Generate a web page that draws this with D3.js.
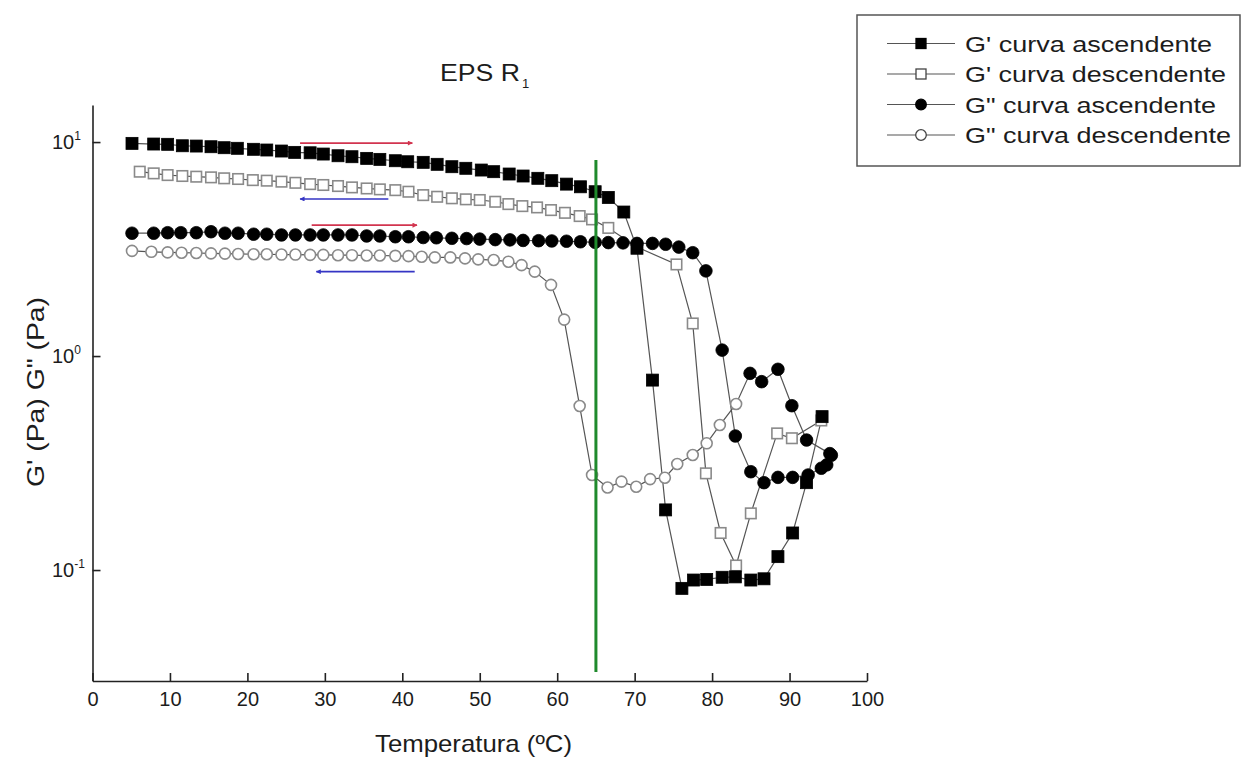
<!DOCTYPE html>
<html><head><meta charset="utf-8">
<script src="https://cdn.jsdelivr.net/npm/d3@7"></script>
<style>
body{margin:0;background:#fff;}
svg{display:block;background:#fff;}
text{font-family:"Liberation Sans",Arial,Helvetica,sans-serif;fill:#1c1c1c;}
</style>
</head><body>
<svg id="chart" width="1251" height="758"></svg>
<script>
// ---------------- data ----------------
const chartTitle = "EPS R";
const chartTitleSub = "1";
const xTitle = "Temperatura (ºC)";
const yTitle = "G' (Pa) G\" (Pa)";
const xDomain = [0, 100];
const yDomain = [0.0303, 14.9];
const xMajorTicks = [0,10,20,30,40,50,60,70,80,90,100];
const xMinorTicks = [5,15,25,35,45,55,65,75,85,95];
const yMajorTicks = [0.1, 1, 10];
const yTickExponents = ["-1", "0", "1"];
const yMinorTicks = [0.04,0.05,0.06,0.07,0.08,0.09,0.2,0.3,0.4,0.5,0.6,0.7,0.8,0.9,2,3,4,5,6,7,8,9];

const seriesNames = ["G' curva ascendente", "G' curva descendente", "G\" curva ascendente", "G\" curva descendente"];

// G' ascending (filled squares)
const gpAscT = [5.1,7.9,9.7,11.6,13.4,15.3,17.0,18.7,20.8,22.5,24.4,26.1,28.1,29.8,31.7,33.5,35.4,37.1,39.1,40.7,
  42.7,44.5,46.4,48.2,50.2,51.8,53.8,55.6,57.5,59.3,61.2,63.0,64.9,66.6,68.6,
  70.3,72.3,74.0,76.1,77.6,79.3,81.3,83.0,85.0,86.7,88.5,90.4,92.2,94.2];
const gpAscV = [9.86,9.79,9.76,9.61,9.58,9.51,9.41,9.35,9.25,9.18,9.08,8.95,8.91,8.79,8.63,8.54,8.39,8.30,8.18,8.09,
  8.04,7.87,7.67,7.54,7.40,7.27,7.09,6.94,6.77,6.60,6.36,6.18,5.86,5.51,4.71,
  3.19,0.772,0.191,0.0821,0.0898,0.0904,0.0925,0.0929,0.0898,0.091,0.1155,0.149,0.256,0.521];

// G' descending (open squares)
const gpDescT = [6.1,7.9,9.7,11.6,13.4,15.3,17.0,18.8,20.7,22.5,24.4,26.2,28.1,29.8,31.7,33.5,35.4,37.1,39.1,40.8,
  42.7,44.5,46.4,48.2,50.0,52.0,53.7,55.5,57.4,59.2,61.0,62.9,64.5,66.6,
  70.3,75.4,77.5,79.2,81.1,83.1,85.0,88.4,90.3,94.1];
const gpDescV = [7.27,7.14,7.01,6.94,6.89,6.84,6.77,6.72,6.64,6.60,6.53,6.45,6.36,6.30,6.23,6.14,6.07,6.01,5.96,5.86,
  5.65,5.55,5.46,5.40,5.36,5.26,5.13,5.02,4.95,4.81,4.67,4.51,4.35,3.97,
  3.23,2.68,1.42,0.283,0.149,0.105,0.184,0.435,0.413,0.50];

// G'' ascending (filled circles)
const gppAscT = [5.1,7.9,9.7,11.4,13.4,15.3,17.1,18.8,20.8,22.5,24.4,26.2,28.1,29.8,31.7,33.5,35.4,37.1,39.1,40.8,
  42.7,44.4,46.4,48.3,50.0,52.0,53.9,55.6,57.6,59.3,61.2,63.0,64.9,
  66.6,68.5,70.3,72.3,74.0,75.7,77.5,79.2,81.3,83.0,85.0,86.7,88.5,90.4,92.4,94.1,94.8,95.4];
const gppAscV = [3.75,3.75,3.77,3.77,3.77,3.81,3.75,3.75,3.71,3.71,3.68,3.68,3.68,3.68,3.68,3.68,3.64,3.64,3.61,3.61,
  3.58,3.57,3.55,3.54,3.52,3.50,3.49,3.47,3.46,3.45,3.44,3.42,3.40,
  3.39,3.38,3.36,3.36,3.33,3.23,3.04,2.50,1.066,0.423,0.288,0.256,0.271,0.271,0.278,0.299,0.31,0.344];

// G'' descending (open circles)
const gppDescT = [5.1,7.6,9.7,11.5,13.4,15.3,17.1,18.8,20.8,22.5,24.4,26.2,28.1,29.8,31.7,33.5,35.4,37.1,39.1,40.8,
  42.5,44.2,46.2,48.1,49.8,51.8,53.7,55.4,57.1,59.2,60.9,
  62.9,64.5,66.5,68.3,70.2,72.0,73.9,75.5,77.5,79.3,81.0,83.1,
  84.9,86.4,88.5,90.3,92.2,95.2];
const gppDescV = [3.10,3.07,3.05,3.04,3.03,3.02,3.01,3.00,2.99,2.99,2.98,2.98,2.97,2.97,2.96,2.96,2.95,2.95,2.94,2.93,
  2.91,2.89,2.89,2.86,2.83,2.81,2.76,2.66,2.48,2.15,1.48,
  0.584,0.278,0.243,0.259,0.245,0.266,0.270,0.313,0.345,0.391,0.476,0.597,
  0.83,0.759,0.867,0.586,0.405,0.35];
// in the picture the high-temperature part of G'' descending is drawn solid
const gppDescSolidAboveT = 84;

// vertical reference line
const refLineT = 65;
const refLineRange = [0.0334, 8.24];

// direction arrows (temperature from -> to, at a level)
const arrowFromT = [26.8, 38.2, 28.3, 41.6];
const arrowToT   = [41.3, 26.8, 41.9, 28.9];
const arrowLevel = [9.89, 5.42, 4.09, 2.48];

// ---------------- drawing ----------------
const svg = d3.select("#chart");
const x = d3.scaleLinear().domain(xDomain).range([92.5, 867]);
const y = d3.scaleLog().domain(yDomain).range([681, 105]);

const AX = "#222";
// x axis
const gx = svg.append("g").attr("transform", "translate(0,681)");
gx.call(d3.axisBottom(x).tickValues(xMinorTicks).tickSizeInner(-4).tickSizeOuter(0).tickFormat(""));
gx.call(d3.axisBottom(x).tickValues(xMajorTicks).tickSizeInner(-8).tickSizeOuter(0).tickPadding(11).tickFormat(d3.format("d")));
gx.selectAll("text").style("font-size", "20px").attr("fill", "#1c1c1c");
gx.selectAll("path,line").attr("stroke", AX).attr("stroke-width", 1.6);

// y axis
const gy = svg.append("g").attr("transform", "translate(92.5,0)");
gy.call(d3.axisLeft(y).tickValues(yMinorTicks).tickSizeInner(-4).tickSizeOuter(0).tickFormat(""));
gy.call(d3.axisLeft(y).tickValues(yMajorTicks).tickSizeInner(-8).tickSizeOuter(0).tickFormat(""));
gy.selectAll("path,line").attr("stroke", AX).attr("stroke-width", 1.6);

yMajorTicks.forEach((v, i) => {
  const t = svg.append("text").attr("x", 52).attr("y", y(v) + 7).style("font-size", "20px");
  t.append("tspan").text("10");
  t.append("tspan").attr("dy", -9).style("font-size", "12px").text(yTickExponents[i]);
});

// titles
svg.append("text").attr("x", 440).attr("y", 81).style("font-size", "24px")
  .attr("textLength", 80).attr("lengthAdjust", "spacingAndGlyphs").text(chartTitle);
svg.append("text").attr("x", 522).attr("y", 88).style("font-size", "13px").text(chartTitleSub);
svg.append("text").attr("x", 473.5).attr("y", 752).attr("text-anchor", "middle").style("font-size", "24px")
  .attr("textLength", 197).attr("lengthAdjust", "spacingAndGlyphs").text(xTitle);
svg.append("text").attr("transform", "translate(44,392) rotate(-90)").attr("text-anchor", "middle")
  .style("font-size", "24px").attr("textLength", 190).attr("lengthAdjust", "spacingAndGlyphs").text(yTitle);

// series
const series = [
  {T: gpAscT, V: gpAscV, shape: "square", solid: () => true},
  {T: gpDescT, V: gpDescV, shape: "square", solid: () => false},
  {T: gppAscT, V: gppAscV, shape: "circle", solid: () => true},
  {T: gppDescT, V: gppDescV, shape: "circle", solid: t => t > gppDescSolidAboveT}
];
const line = d3.line().x(d => x(d[0])).y(d => y(d[1]));
const plot = svg.append("g");
series.forEach(s => {
  const pts = s.T.map((t, i) => [t, s.V[i]]);
  plot.append("path").datum(pts).attr("d", line).attr("fill", "none")
    .attr("stroke", "#555").attr("stroke-width", 1.2);
});

function drawMarker(g, shape, solid, cx, cy) {
  if (shape === "square") {
    const s = solid ? 12 : 10.5;
    g.append("rect").attr("x", cx - s / 2).attr("y", cy - s / 2).attr("width", s).attr("height", s)
      .attr("fill", solid ? "#000" : "#fff").attr("stroke", solid ? "#000" : "#8a8a8a")
      .attr("stroke-width", solid ? 0.8 : 1.6);
  } else {
    g.append("circle").attr("cx", cx).attr("cy", cy).attr("r", solid ? 6.3 : 5.5)
      .attr("fill", solid ? "#000" : "#fff").attr("stroke", solid ? "#000" : "#8a8a8a")
      .attr("stroke-width", solid ? 0.8 : 1.6);
  }
}
[1, 3, 2, 0].forEach(k => {
  const s = series[k];
  s.T.forEach((t, i) => drawMarker(plot, s.shape, s.solid(t), x(t), y(s.V[i])));
});

// green reference line
svg.append("line").attr("x1", x(refLineT)).attr("x2", x(refLineT))
  .attr("y1", y(refLineRange[1])).attr("y2", y(refLineRange[0]))
  .attr("stroke", "#1f8a2c").attr("stroke-width", 3);

// arrows
const arrowColors = ["#d2344f", "#3535c4", "#d2344f", "#3535c4"];
const defs = svg.append("defs");
arrowColors.forEach((c, i) => {
  defs.append("marker").attr("id", "ah" + i).attr("viewBox", "0 0 10 10").attr("refX", 9).attr("refY", 5)
    .attr("markerWidth", 7).attr("markerHeight", 5).attr("markerUnits", "userSpaceOnUse").attr("orient", "auto")
    .append("path").attr("d", "M0,0 L10,5 L0,10 Z").attr("fill", c);
});
arrowFromT.forEach((f, i) => {
  svg.append("line").attr("x1", x(f)).attr("x2", x(arrowToT[i]))
    .attr("y1", y(arrowLevel[i])).attr("y2", y(arrowLevel[i]))
    .attr("stroke", arrowColors[i]).attr("stroke-width", 1.6).attr("marker-end", `url(#ah${i})`);
});

// legend
const lg = svg.append("g");
lg.append("rect").attr("x", 857).attr("y", 15).attr("width", 383).attr("height", 151)
  .attr("fill", "#fff").attr("stroke", "#555").attr("stroke-width", 1.5);
const legendTextLen = [247, 261, 251, 266];
series.forEach((s, i) => {
  const cy = 43.5 + i * 30.5;
  lg.append("line").attr("x1", 887).attr("x2", 955).attr("y1", cy).attr("y2", cy)
    .attr("stroke", "#555").attr("stroke-width", 1.2);
  const g = lg.append("g");
  if (s.shape === "square") {
    const sz = 10;
    g.append("rect").attr("x", 921 - sz / 2).attr("y", cy - sz / 2).attr("width", sz).attr("height", sz)
      .attr("fill", i === 0 ? "#000" : "#fff").attr("stroke", i === 0 ? "#000" : "#444").attr("stroke-width", 1.3);
  } else {
    g.append("circle").attr("cx", 921).attr("cy", cy).attr("r", 5.3)
      .attr("fill", i === 2 ? "#000" : "#fff").attr("stroke", i === 2 ? "#000" : "#444").attr("stroke-width", 1.3);
  }
  lg.append("text").attr("x", 965).attr("y", cy + 8).style("font-size", "22px")
    .attr("textLength", legendTextLen[i]).attr("lengthAdjust", "spacingAndGlyphs").text(seriesNames[i]);
});
</script>
</body></html>
